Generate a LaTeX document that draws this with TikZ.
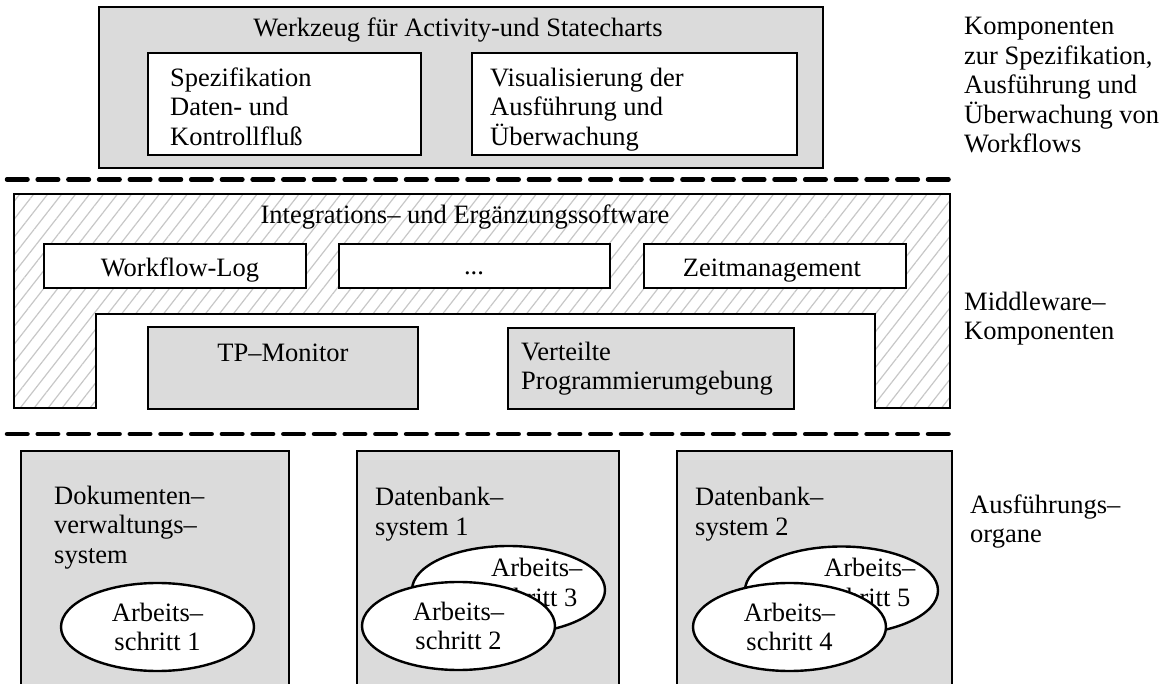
\documentclass[tikz,border=0pt]{standalone}
\usepackage{fontspec}
\setmainfont{Liberation Serif}
\usepackage{tikz}
\usetikzlibrary{shapes.geometric, patterns.meta}
\tikzset{
    graybox/.style={rectangle, draw, line width=2.4pt, fill=black!14, inner sep=0pt},
    whitebox/.style={rectangle, draw, line width=2.4pt, fill=white, inner sep=0pt},
    schritt/.style={ellipse, draw, line width=2.4pt, fill=white, inner sep=0pt, minimum width=193pt, minimum height=88pt, align=center},
    txt/.style={inner sep=0pt, align=left, anchor=base west},
    trenner/.style={line width=4.5pt, line cap=round, dash pattern=on 20.5pt off 10.2pt},
    hatched/.style={line width=2.4pt, pattern={Lines[angle=52, distance=11pt, line width=1.2pt]}, pattern color=black!22}
}

\begin{document}
\begin{tikzpicture}[x=1pt, y=-1pt, font=\fontsize{26.5}{29.5}\selectfont]
    \useasboundingbox (0,0) rectangle (1168,684);
    \clip (0,0) rectangle (1168,684);

    % Werkzeug
    \node[graybox, minimum width=724pt, minimum height=161pt] (werkzeug) at (461,87.5) {};
    \node[inner sep=0pt, anchor=base] (werkzeugtxt) at (458,37) {Werkzeug für Activity-und Statecharts};
    \node[whitebox, minimum width=273pt, minimum height=102pt] (spez) at (284.5,104) {};
    \node[whitebox, minimum width=325pt, minimum height=102pt] (visual) at (634.5,104) {};
    % multi-line texts: base = last line
    \node[txt] (speztxt) at (170,145.5) {Spezifikation\\Daten- und\\Kontrollfluß};
    \node[txt] (visualtxt) at (490,145.5) {Visualisierung der\\Ausführung und\\Überwachung};

    % Trennlinien
    \coordinate (ta) at (7,179.5);
    \coordinate (tb) at (957,179.5);
    \coordinate (tc) at (7,434);
    \coordinate (td) at (957,434);
    \draw[trenner] (ta) -- (tb);
    \draw[trenner] (tc) -- (td);

    % Middleware
    \draw[hatched] (14,194) -- (950,194) -- (950,408) -- (875,408) -- (875,314)
        -- (96,314) -- (96,408) -- (14,408) -- cycle;
    \node[inner sep=0pt, anchor=base] (integtxt) at (465,224) {Integrations– und Ergänzungssoftware};
    \node[whitebox, minimum width=262pt, minimum height=44pt] (wflog) at (175,266) {};
    \node[whitebox, minimum width=271pt, minimum height=44pt] (dots) at (474.5,266) {};
    \node[whitebox, minimum width=262pt, minimum height=44pt] (zeit) at (775,266) {};
    \node[inner sep=0pt, anchor=base] (wflogtxt) at (180,277) {Workflow-Log};
    \node[inner sep=0pt, anchor=base] (dotstxt) at (474,275) {...};
    \node[inner sep=0pt, anchor=base] (zeittxt) at (772,277) {Zeitmanagement};
    \node[graybox, minimum width=270pt, minimum height=82pt] (tpmon) at (283,368) {};
    \node[graybox, minimum width=286pt, minimum height=81pt] (verteilt) at (651,368.5) {};
    \node[inner sep=0pt, anchor=base] (tpmontxt) at (283,362) {TP–Monitor};
    \node[txt] (verteilttxt) at (521,390) {Verteilte\\Programmierumgebung};

    % Ausfuehrungsorgane
    \node[graybox, minimum width=268pt, minimum height=260pt] (dms) at (155,581) {};
    \node[graybox, minimum width=262pt, minimum height=260pt] (db1) at (488,581) {};
    \node[graybox, minimum width=275pt, minimum height=260pt] (db2) at (814.5,581) {};
    \node[txt] (dmstxt) at (54,563) {Dokumenten–\\verwaltungs–\\system};
    \node[txt] (db1txt) at (375,535) {Datenbank–\\system 1};
    \node[txt] (db2txt) at (695,535) {Datenbank–\\system 2};

    \node[schritt] (as1) at (157.5,627) {Arbeits–\\schritt 1};
    \node[schritt] (as3) at (508.5,590) {};
    \node[txt] (as3txt) at (491,606) {Arbeits–\\schritt 3};
    \node[schritt] (as2) at (458.5,626) {Arbeits–\\schritt 2};
    \node[schritt] (as5) at (841.5,590.5) {};
    \node[txt] (as5txt) at (824,606) {Arbeits–\\schritt 5};
    \node[schritt] (as4) at (789.5,627) {Arbeits–\\schritt 4};

    % Ebenen
    \node[txt] (ebene1) at (964,153) {Komponenten\\zur Spezifikation,\\Ausführung und\\Überwachung von\\Workflows};
    \node[txt] (ebene2) at (964,340) {Middleware–\\Komponenten};
    \node[txt] (ebene3) at (970,543) {Ausführungs–\\organe};
\end{tikzpicture}
\end{document}
